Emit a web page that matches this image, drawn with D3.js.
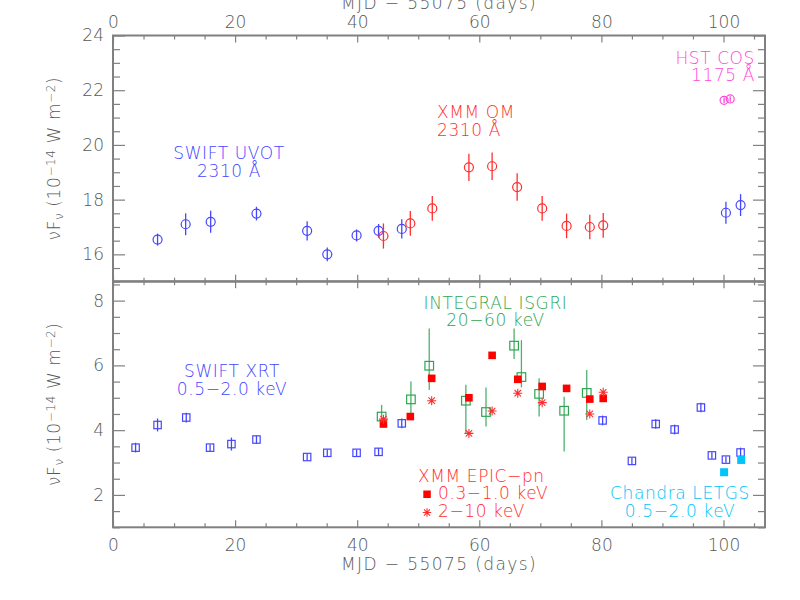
<!DOCTYPE html>
<html>
<head>
<meta charset="utf-8">
<script src="https://cdn.jsdelivr.net/npm/d3@7"></script>
<style>
body { margin: 0; background: #fff; }
text { font-family: "DejaVu Sans", sans-serif; font-weight: 200; }
</style>
</head>
<body>
<div id="chart"></div>
<script>
// top panel: optical / UV
var uvotDay  = [7.3, 11.9, 16.0, 23.5, 31.8, 35.1, 39.9, 43.5, 47.3, 100.4, 102.8];
var uvotFlux = [16.54, 17.10, 17.19, 17.49, 16.86, 16.00, 16.69, 16.86, 16.93, 17.52, 17.80];
var uvotErr  = [0.22, 0.4, 0.4, 0.25, 0.35, 0.25, 0.22, 0.25, 0.35, 0.4, 0.4];

var omDay  = [44.3, 48.7, 52.3, 58.3, 62.1, 66.2, 70.3, 74.3, 78.1, 80.3];
var omFlux = [16.67, 17.13, 17.68, 19.18, 19.22, 18.46, 17.68, 17.04, 17.00, 17.06];
var omErr  = [0.46, 0.45, 0.45, 0.5, 0.5, 0.5, 0.45, 0.45, 0.45, 0.45];

var cosDay  = [100.1, 101.1];
var cosFlux = [21.63, 21.68];
var cosErr  = [0.1, 0.1];

// bottom panel: X-ray
var xrtDay  = [3.7, 7.3, 12.0, 15.9, 19.4, 23.5, 31.8, 35.1, 39.9, 43.5, 47.3, 80.2, 85.0, 88.9, 92.0, 96.3, 98.1, 100.4, 102.8];
var xrtFlux = [3.46, 4.16, 4.39, 3.46, 3.57, 3.71, 3.17, 3.30, 3.30, 3.33, 4.21, 4.30, 3.05, 4.19, 4.02, 4.70, 3.22, 3.09, 3.31];
var xrtErr  = [0.15, 0.2, 0.15, 0.1, 0.2, 0.12, 0.1, 0.1, 0.1, 0.12, 0.15, 0.15, 0.1, 0.15, 0.15, 0.15, 0.1, 0.1, 0.15];

var isgriDay  = [44.0, 48.8, 51.8, 57.8, 61.1, 65.7, 66.9, 69.8, 73.9, 77.6];
var isgriFlux = [4.42, 4.95, 5.99, 4.91, 4.56, 6.61, 5.64, 5.12, 4.60, 5.15];
var isgriHi   = [0.36, 0.55, 1.15, 0.49, 0.76, 0.53, 1.14, 0.48, 0.43, 0.71];
var isgriLo   = [0.2, 0.53, 0.75, 1.01, 0.45, 0.41, 0.32, 0.70, 1.26, 0.84];

var pnSoftDay  = [44.3, 48.7, 52.2, 58.3, 62.1, 66.3, 70.3, 74.3, 78.1, 80.3];
var pnSoftFlux = [4.19, 4.42, 5.60, 5.00, 6.31, 5.57, 5.35, 5.29, 4.96, 4.98];

var pnHardDay  = [44.3, 52.2, 58.3, 62.1, 66.3, 70.3, 78.1, 80.3];
var pnHardFlux = [4.34, 4.91, 3.90, 4.59, 5.14, 4.85, 4.50, 5.17];

var letgsDay  = [100.1, 102.9];
var letgsFlux = [2.70, 3.08];

var xMajor = [0, 20, 40, 60, 80, 100];
var topMajor = [16, 18, 20, 22, 24];
var botMajor = [2, 4, 6, 8];

var blue = "#4646ff", red = "#ff2e2e", green = "#2fa553",
    cyan = "#00c4fa", magenta = "#ff48d8", axisGrey = "#808080", textGrey = "#585858";

var svg = d3.select("#chart").append("svg")
    .attr("width", 800)
    .attr("height", 600);

var x = d3.scaleLinear().domain([0, 106.8]).range([113, 765]);
var yTop = d3.scaleLinear().domain([15, 24]).range([281.7, 35.5]);
var yBot = d3.scaleLinear().domain([1, 8.6]).range([527.3, 281.2]);

var xMinor = d3.range(0, 107, 5).filter(function(d) { return d % 20 != 0; });

function styleAxis(g) {
  g.select(".domain").remove();
  g.selectAll("line").attr("stroke", axisGrey).attr("stroke-width", 1.2);
  g.selectAll("text").attr("fill", textGrey).style("font-size", "17px");
}

function panel(y, major, showTop, showBottom) {
  var y0 = y.range()[0], y1 = y.range()[1];
  var d = y.domain();
  var yMinor = d3.range(Math.ceil(d[0] * 2) / 2, d[1] + 0.01, 0.5)
      .filter(function(v) { return major.indexOf(v) < 0; });

  // x ticks, top and bottom edges
  svg.append("g").attr("transform", "translate(0," + y1 + ")")
      .call(d3.axisTop(x).tickValues(xMajor).tickSize(-7).tickPadding(8)
        .tickFormat(showTop ? d3.format("d") : ""))
      .call(styleAxis);
  svg.append("g").attr("transform", "translate(0," + y1 + ")")
      .call(d3.axisTop(x).tickValues(xMinor).tickSize(-4).tickFormat(""))
      .call(styleAxis);
  svg.append("g").attr("transform", "translate(0," + y0 + ")")
      .call(d3.axisBottom(x).tickValues(xMajor).tickSize(-7).tickPadding(12)
        .tickFormat(showBottom ? d3.format("d") : ""))
      .call(styleAxis);
  svg.append("g").attr("transform", "translate(0," + y0 + ")")
      .call(d3.axisBottom(x).tickValues(xMinor).tickSize(-4).tickFormat(""))
      .call(styleAxis);

  // y ticks, left and right edges
  svg.append("g").attr("transform", "translate(" + x.range()[0] + ",0)")
      .call(d3.axisLeft(y).tickValues(major).tickSize(-12).tickPadding(9)
        .tickFormat(d3.format("d")))
      .call(styleAxis);
  svg.append("g").attr("transform", "translate(" + x.range()[0] + ",0)")
      .call(d3.axisLeft(y).tickValues(yMinor).tickSize(-7).tickFormat(""))
      .call(styleAxis);
  svg.append("g").attr("transform", "translate(" + x.range()[1] + ",0)")
      .call(d3.axisRight(y).tickValues(major).tickSize(-12).tickFormat(""))
      .call(styleAxis);
  svg.append("g").attr("transform", "translate(" + x.range()[1] + ",0)")
      .call(d3.axisRight(y).tickValues(yMinor).tickSize(-7).tickFormat(""))
      .call(styleAxis);

  svg.append("rect")
      .attr("x", x.range()[0]).attr("y", y1)
      .attr("width", x.range()[1] - x.range()[0]).attr("height", y0 - y1)
      .attr("fill", "none").attr("stroke", axisGrey).attr("stroke-width", 2);

  // y label
  var lab = svg.append("text")
      .attr("transform", "translate(60," + (y0 + y1) / 2 + ") rotate(-90)")
      .attr("text-anchor", "middle")
      .attr("fill", textGrey)
      .style("font-size", "17px")
      .style("letter-spacing", "0.6px");
  lab.append("tspan").text("νF");
  lab.append("tspan").attr("baseline-shift", "-25%").style("font-size", "12px").text("ν");
  lab.append("tspan").text(" (10");
  lab.append("tspan").attr("baseline-shift", "40%").style("font-size", "12px").text("−14");
  lab.append("tspan").text(" W m");
  lab.append("tspan").attr("baseline-shift", "40%").style("font-size", "12px").text("−2");
  lab.append("tspan").text(")");
}

panel(yTop, topMajor, true, false);
panel(yBot, botMajor, false, true);

// axis titles
svg.append("text").attr("x", 439).attr("y", 9)
    .attr("text-anchor", "middle").attr("fill", textGrey)
    .style("font-size", "17px").style("letter-spacing", "1.4px")
    .text("MJD − 55075 (days)");
svg.append("text").attr("x", 439).attr("y", 570)
    .attr("text-anchor", "middle").attr("fill", textGrey)
    .style("font-size", "17px").style("letter-spacing", "1.4px")
    .text("MJD − 55075 (days)");

// helpers
function errBars(days, vals, lo, hi, y, color, w, op) {
  svg.append("g").selectAll("line").data(days).enter().append("line")
      .attr("x1", function(d) { return x(d); })
      .attr("x2", function(d) { return x(d); })
      .attr("y1", function(d, i) { return y(vals[i] - lo[i]); })
      .attr("y2", function(d, i) { return y(vals[i] + hi[i]); })
      .attr("stroke", color).attr("stroke-width", w || 1.3)
      .attr("opacity", op || 1);
}

function circles(days, vals, y, color, r) {
  svg.append("g").selectAll("circle").data(days).enter().append("circle")
      .attr("cx", function(d) { return x(d); })
      .attr("cy", function(d, i) { return y(vals[i]); })
      .attr("r", r || 4.5)
      .attr("fill", "none").attr("stroke", color).attr("stroke-width", 1.2);
}

function squares(days, vals, y, color, h, filled) {
  svg.append("g").selectAll("rect").data(days).enter().append("rect")
      .attr("x", function(d) { return x(d) - h; })
      .attr("y", function(d, i) { return y(vals[i]) - h; })
      .attr("width", 2 * h).attr("height", 2 * h)
      .attr("fill", filled ? color : "none")
      .attr("stroke", filled ? "none" : color)
      .attr("stroke-width", 1.2);
}

function starPath(cx, cy, s) {
  var a = s * 0.72;
  return "M" + (cx - s) + "," + cy + "H" + (cx + s) +
    "M" + cx + "," + (cy - s) + "V" + (cy + s) +
    "M" + (cx - a) + "," + (cy - a) + "L" + (cx + a) + "," + (cy + a) +
    "M" + (cx - a) + "," + (cy + a) + "L" + (cx + a) + "," + (cy - a);
}

function stars(days, vals, y, color) {
  svg.append("g").selectAll("path").data(days).enter().append("path")
      .attr("d", function(d, i) { return starPath(x(d), y(vals[i]), 4.5); })
      .attr("fill", "none").attr("stroke", color).attr("stroke-width", 1.1);
}

// top panel marks
errBars(uvotDay, uvotFlux, uvotErr, uvotErr, yTop, blue);
circles(uvotDay, uvotFlux, yTop, blue);
errBars(omDay, omFlux, omErr, omErr, yTop, red);
circles(omDay, omFlux, yTop, red);
errBars(cosDay, cosFlux, cosErr, cosErr, yTop, magenta);
circles(cosDay, cosFlux, yTop, magenta, 4);

// bottom panel marks
errBars(isgriDay, isgriFlux, isgriLo, isgriHi, yBot, green, 1.3, 0.85);
squares(isgriDay, isgriFlux, yBot, green, 4.3, false);
errBars(xrtDay, xrtFlux, xrtErr, xrtErr, yBot, blue);
squares(xrtDay, xrtFlux, yBot, blue, 3.7, false);
squares(pnSoftDay, pnSoftFlux, yBot, "#ff0000", 3.8, true);
stars(pnHardDay, pnHardFlux, yBot, red);
squares(letgsDay, letgsFlux, yBot, cyan, 4, true);

// annotations
function note(lines, px, py, anchor, color) {
  lines.forEach(function(t, i) {
    svg.append("text").attr("x", px).attr("y", py + i * 17.8)
        .attr("text-anchor", anchor).attr("fill", color)
        .style("font-size", "17px").style("letter-spacing", "0.6px")
        .text(t);
  });
}

note(["SWIFT UVOT", "2310 Å"], 229, 159.3, "middle", blue);
note(["XMM OM", "2310 Å"], 437, 118.3, "start", red);
note(["HST COS", "1175 Å"], 755, 63.6, "end", magenta);
note(["SWIFT XRT", "0.5−2.0 keV"], 232, 376.7, "middle", blue);
note(["INTEGRAL ISGRI", "20−60 keV"], 495.5, 308.5, "middle", green);
note(["XMM EPIC−pn"], 418, 482.3, "start", red);
note(["0.3−1.0 keV", "2−10 keV"], 438, 499.3, "start", red);
note(["Chandra LETGS", "0.5−2.0 keV"], 680, 499.3, "middle", cyan);

// legend markers for EPIC-pn
svg.append("rect").attr("x", 423.3).attr("y", 490.5).attr("width", 7.5).attr("height", 7.5)
    .attr("fill", "#ff0000");
svg.append("path").attr("d", starPath(427, 512.5, 4.2))
    .attr("fill", "none").attr("stroke", red).attr("stroke-width", 1.1);
</script>
</body>
</html>
